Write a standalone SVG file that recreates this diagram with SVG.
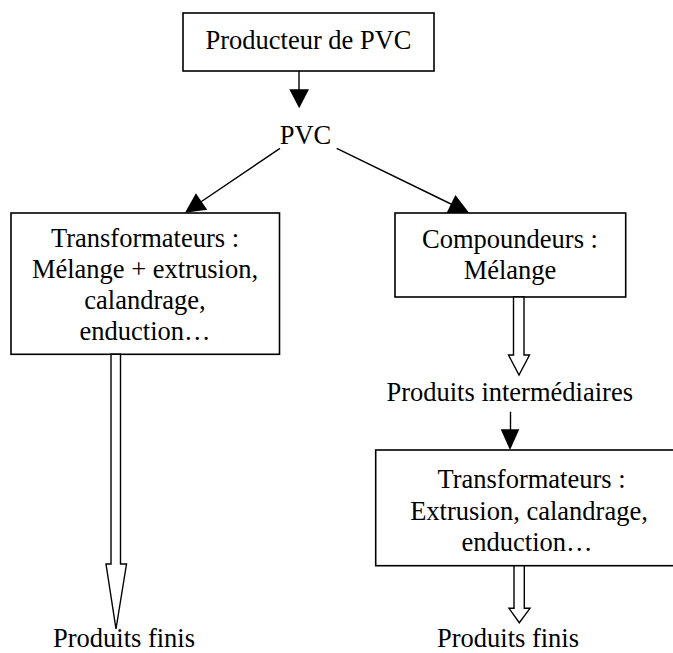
<svg xmlns="http://www.w3.org/2000/svg" width="673" height="653" viewBox="0 0 673 653">
<style>
  .box { fill: #fff; stroke: #000; stroke-width: 1.6; }
  .t { font-family: "Liberation Serif", "Times New Roman", serif; font-size: 26.5px; fill: #000; text-anchor: middle; }
  .ln { stroke: #000; stroke-width: 1.4; fill: none; }
  .solid { fill: #000; stroke: none; }
  .hollow { fill: #fff; stroke: #000; stroke-width: 1.4; stroke-linejoin: miter; }
</style>
<rect width="673" height="653" fill="#fff"/>
<g id="node-producteur">
  <rect class="box" x="183" y="13" width="251" height="58"/>
  <text class="t" x="308.5" y="49">Producteur de PVC</text>
</g>
<g id="node-pvc">
  <text class="t" x="305.5" y="144">PVC</text>
</g>
<g id="node-transformateurs1">
  <rect class="box" x="11" y="213" width="268.5" height="141.3"/>
  <text class="t" x="145" y="246.5">Transformateurs :</text>
  <text class="t" x="145" y="277.7">Mélange + extrusion,</text>
  <text class="t" x="145" y="308.8">calandrage,</text>
  <text class="t" x="145" y="340">enduction…</text>
</g>
<g id="node-compoundeurs">
  <rect class="box" x="395" y="213" width="230.7" height="84"/>
  <text class="t" x="510" y="248.3">Compoundeurs :</text>
  <text class="t" x="510" y="279.3">Mélange</text>
</g>
<g id="node-intermediaires">
  <text class="t" x="509.7" y="400.7">Produits intermédiaires</text>
</g>
<g id="node-transformateurs2">
  <rect class="box" x="375.7" y="450" width="310" height="115.7"/>
  <text class="t" x="531.5" y="488">Transformateurs :</text>
  <text class="t" x="529" y="519.5">Extrusion, calandrage,</text>
  <text class="t" x="527" y="551">enduction…</text>
</g>
<g id="node-finis1">
  <text class="t" x="124" y="647">Produits finis</text>
</g>
<g id="node-finis2">
  <text class="t" x="508" y="647">Produits finis</text>
</g>
<g id="connectors">
  <line class="ln" x1="299" y1="71" x2="299" y2="90"/>
  <polygon class="solid" points="289.3,89.3 309,89.3 299.2,108.3"/>
  <line class="ln" x1="280" y1="148.3" x2="200" y2="202.5"/>
  <polygon class="solid" points="185,212.7 207.2,209.8 195.9,193.2"/>
  <line class="ln" x1="336.7" y1="148.3" x2="452" y2="204.5"/>
  <polygon class="solid" points="469,212.7 446.6,213 455.4,195"/>
  <polygon class="hollow" points="111,354.3 120.5,354.3 120.5,564 126.5,564 116,629 106,564 111,564"/>
  <polygon class="hollow" points="513.5,297 524,297 524,355 529.5,355 519,375 508.5,355 513.5,355"/>
  <line class="ln" x1="510.5" y1="411.7" x2="510.5" y2="430"/>
  <polygon class="solid" points="500.7,429.3 519.3,429.3 510,450"/>
  <polygon class="hollow" points="514,565.7 524.3,565.7 524.3,608.3 530,608.3 519.3,622.7 509,608.3 514,608.3"/>
</g>
</svg>
